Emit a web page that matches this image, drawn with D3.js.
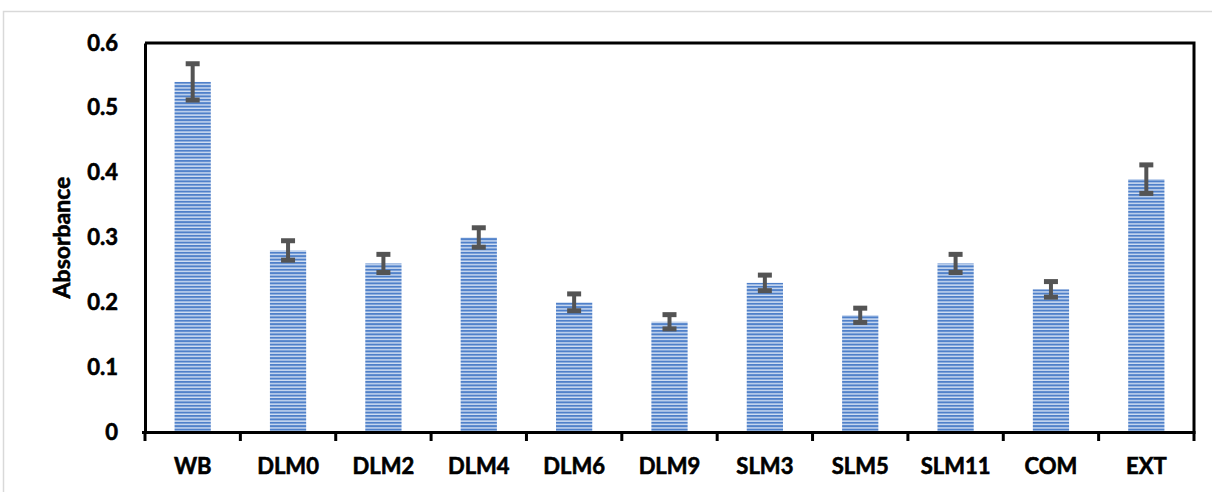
<!DOCTYPE html>
<html>
<head>
<meta charset="utf-8">
<script src="https://cdn.jsdelivr.net/npm/d3@7"></script>
<style>
  html, body { margin: 0; padding: 0; background: #fff; }
  svg { display: block; }
  text { font-family: Lato, "Open Sans", sans-serif; font-weight: 700; fill: #000; stroke: #000; stroke-width: 0.6px; }
</style>
</head>
<body>
<svg id="chart" width="1212" height="492"></svg>
<script>
// Sample names along the x axis
const categories = ["WB", "DLM0", "DLM2", "DLM4", "DLM6", "DLM9", "SLM3", "SLM5", "SLM11", "COM", "EXT"];
// Mean absorbance per sample
const absorbance = [0.54, 0.28, 0.26, 0.30, 0.20, 0.17, 0.23, 0.18, 0.26, 0.22, 0.39];
// Error (± half-range) per sample
const errors = [0.028, 0.015, 0.014, 0.015, 0.013, 0.011, 0.012, 0.011, 0.014, 0.012, 0.022];
// Y tick values
const yTicks = [0, 0.1, 0.2, 0.3, 0.4, 0.5, 0.6];

const svg = d3.select("#chart");
const W = 1212, H = 492;
const plot = { left: 145, right: 1194, top: 43, bottom: 432 };

// Outer chart frame
svg.append("path")
  .attr("d", `M3.5,${H} V11.5 H${W}`)
  .attr("fill", "none")
  .attr("stroke", "#d9d9d9")
  .attr("stroke-width", 1.5);

// Horizontal stripe fill for the bars
const defs = svg.append("defs");
const pat = defs.append("pattern")
  .attr("id", "stripes")
  .attr("patternUnits", "userSpaceOnUse")
  .attr("width", 8).attr("height", 3.4)
  .attr("y", plot.bottom);
pat.append("rect").attr("width", 8).attr("height", 3.4).attr("fill", "#d3e0f3");
pat.append("rect").attr("width", 8).attr("height", 2.0).attr("fill", "#4f80c9");

const x = d3.scaleBand()
  .domain(categories)
  .range([plot.left, plot.right])
  .paddingInner(0.62)
  .paddingOuter(0.31);

const y = d3.scaleLinear()
  .domain([0, 0.6])
  .range([plot.bottom, plot.top]);

const data = categories.map((c, i) => ({ c, v: absorbance[i], e: errors[i] }));

// Bars
svg.append("g").selectAll("rect")
  .data(data)
  .join("rect")
  .attr("x", d => x(d.c))
  .attr("y", d => y(d.v))
  .attr("width", x.bandwidth())
  .attr("height", d => y(0) - y(d.v))
  .attr("fill", "url(#stripes)");

// Error bars
const eb = svg.append("g")
  .attr("stroke", "#545454")
  .attr("fill", "none");
const capHalf = 7;
data.forEach(d => {
  const cx = x(d.c) + x.bandwidth() / 2;
  eb.append("line").attr("x1", cx).attr("x2", cx).attr("stroke-width", 4)
    .attr("y1", y(d.v + d.e)).attr("y2", y(d.v - d.e));
  eb.append("line").attr("x1", cx - capHalf).attr("x2", cx + capHalf).attr("stroke-width", 5)
    .attr("y1", y(d.v + d.e)).attr("y2", y(d.v + d.e));
  eb.append("line").attr("x1", cx - capHalf).attr("x2", cx + capHalf).attr("stroke-width", 5)
    .attr("y1", y(d.v - d.e)).attr("y2", y(d.v - d.e));
});

// Plot frame: top and right edges
svg.append("path")
  .attr("d", `M${plot.left},${plot.top} H${plot.right} V${plot.bottom}`)
  .attr("fill", "none")
  .attr("stroke", "#000")
  .attr("stroke-width", 3);

// Y axis
const yAxis = svg.append("g")
  .attr("transform", `translate(${plot.left},0)`)
  .call(d3.axisLeft(y).tickValues(yTicks).tickSize(0).tickPadding(27)
    .tickFormat(d => d === 0 ? "0" : d3.format(".1f")(d)));
yAxis.select(".domain").attr("stroke", "#000").attr("stroke-width", 3);
yAxis.selectAll("text").style("font-size", "22px").attr("fill", "#000");

// X axis with tick marks between categories
const xAxis = svg.append("g")
  .attr("transform", `translate(0,${plot.bottom})`)
  .call(d3.axisBottom(x).tickSize(0).tickPadding(26));
xAxis.select(".domain").attr("stroke", "#000").attr("stroke-width", 3)
  .attr("d", `M${plot.left - 3},0.5H${plot.right + 1.5}`);
xAxis.selectAll("text").style("font-size", "22px").attr("fill", "#000");

const step = x.step();
const boundaries = d3.range(categories.length + 1).map(i => plot.left + i * step);
xAxis.append("g").selectAll("line")
  .data(boundaries)
  .join("line")
  .attr("x1", d => Math.min(Math.max(d, plot.left), plot.right))
  .attr("x2", d => Math.min(Math.max(d, plot.left), plot.right))
  .attr("y1", 0).attr("y2", 9)
  .attr("stroke", "#000").attr("stroke-width", 3);

// Y axis title
svg.append("text")
  .attr("transform", `translate(70,${(plot.top + plot.bottom) / 2}) rotate(-90)`)
  .attr("text-anchor", "middle")
  .style("font-size", "23px")
  .text("Absorbance");
</script>
</body>
</html>
